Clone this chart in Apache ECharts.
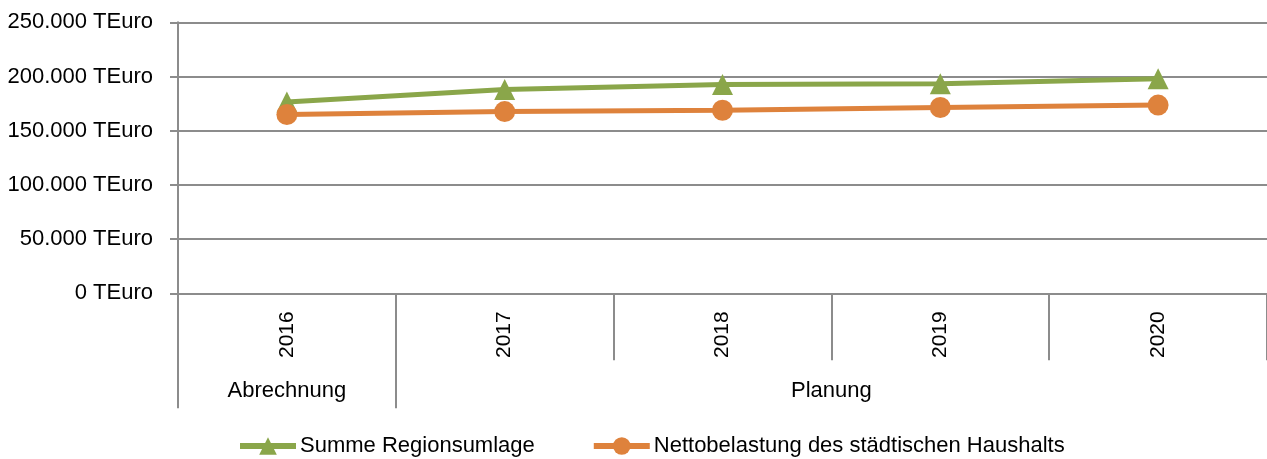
<!DOCTYPE html>
<html><head><meta charset="utf-8">
<script src="https://cdn.jsdelivr.net/npm/echarts@6/dist/echarts.min.js"></script>
<style>html,body{margin:0;padding:0;background:#fff}#c{width:1267px;height:459px}</style>
</head><body><div id="c"></div>
<script>
var years = ['2016','2017','2018','2019','2020'];
var groups = ['Abrechnung','Planung'];
var groupBounds = [0, 1];        // category boundaries where group separators are drawn
var groupCenters = [0.5, 3];     // centre of each group span (in category units)
var regionsumlage = [176500, 188100, 192600, 193300, 198000];
var nettobelastung = [164900, 167600, 168900, 171400, 173600];
var yTicks = [0, 50000, 100000, 150000, 200000, 250000];

var GREEN = '#8aa64a', ORANGE = '#de823c', GRID = '#8c8c8c';
var FONT = "'Liberation Sans',Arial,sans-serif";

var chart = echarts.init(document.getElementById('c'));
chart.setOption({
  animation: false,
  backgroundColor: '#fff',
  grid: {left: 178, right: 0, top: 22.3, bottom: 165.7, containLabel: false, outerBoundsMode: 'none'},
  xAxis: [{
    type: 'category', data: years, boundaryGap: true,
    axisLine: {show: true, lineStyle: {color: GRID, width: 2}},
    axisTick: {show: true, interval: 0, length: 67, lineStyle: {color: GRID, width: 2}},
    axisLabel: {rotate: 90, margin: 18, color: '#000', fontFamily: FONT, fontSize: 21}
  }, {
    type: 'value', min: 0, max: years.length, position: 'bottom', offset: 67,
    axisLine: {show: false}, splitLine: {show: false},
    axisTick: {show: true, customValues: groupBounds, length: 48, lineStyle: {color: GRID, width: 2}},
    axisLabel: {customValues: groupCenters, margin: 20, color: '#000', fontFamily: FONT, fontSize: 22,
      formatter: function (v) { return v < 1 ? groups[0] : groups[1]; }}
  }],
  yAxis: {
    type: 'value', min: yTicks[0], max: yTicks[yTicks.length - 1], interval: 50000,
    axisLine: {show: true, lineStyle: {color: GRID, width: 2}},
    axisTick: {show: true, length: 8, lineStyle: {color: GRID, width: 2}},
    splitLine: {show: true, lineStyle: {color: GRID, width: 2}},
    axisLabel: {margin: 25, color: '#000', fontFamily: FONT, fontSize: 22,
      formatter: function (v) { return (v === 0 ? '0' : (v / 1000) + '.000') + ' TEuro'; }}
  },
  legend: {
    left: 232, top: 430, itemWidth: 56, itemHeight: 22, itemGap: 56,
    lineStyle: {width: 6},
    textStyle: {color: '#000', fontFamily: FONT, fontSize: 22, padding: [0, 0, 0, -1]},
    data: ['Summe Regionsumlage', 'Nettobelastung des städtischen Haushalts']
  },
  series: [{
    name: 'Summe Regionsumlage', type: 'line', data: regionsumlage, xAxisIndex: 0,
    symbol: 'triangle', symbolSize: 21, z: 3,
    lineStyle: {color: GREEN, width: 5}, itemStyle: {color: GREEN}
  }, {
    name: 'Nettobelastung des städtischen Haushalts', type: 'line', data: nettobelastung, xAxisIndex: 0,
    symbol: 'circle', symbolSize: 21, z: 4,
    lineStyle: {color: ORANGE, width: 5}, itemStyle: {color: ORANGE}
  }]
});
</script></body></html>
